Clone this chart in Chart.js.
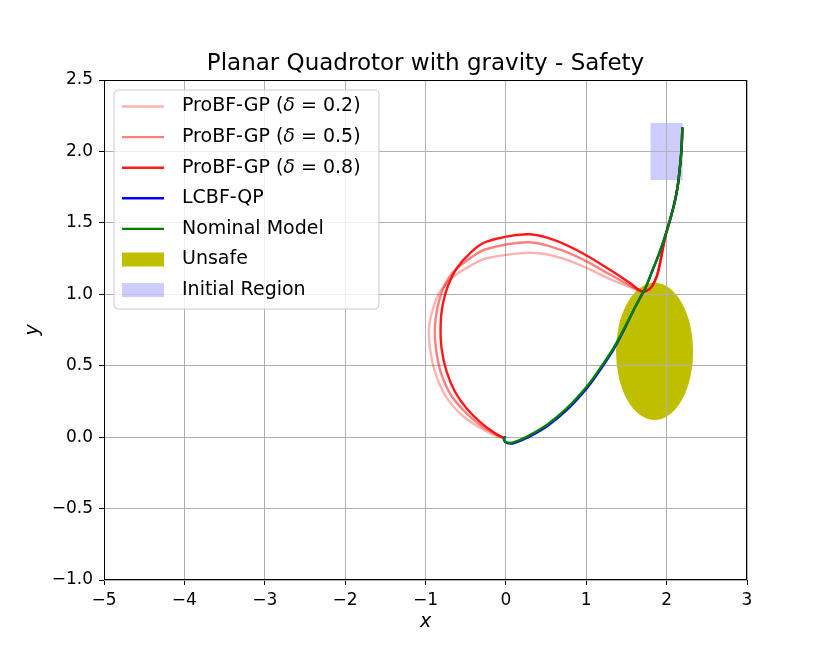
<!DOCTYPE html>
<html>
<head>
<meta charset="utf-8">
<script src="https://cdn.jsdelivr.net/npm/chart.js@4/dist/chart.umd.min.js"></script>
<style>
html,body{margin:0;padding:0;background:#fff;}
canvas{display:block;}
</style>
</head>
<body>
<canvas id="c" width="830" height="664"></canvas>
<script>
// ---- Data ----
const chartTitle = "Planar Quadrotor with gravity - Safety";
const xTickRange = [-5, 3];
const yTickRange = [-1, 2.5];

const nominalModel = [[2.195,2.162],[2.187,2.033],[2.166,1.893],[2.137,1.753],[2.096,1.636],[2.042,1.52],[1.979,1.403],[1.909,1.287],[1.826,1.17],[1.743,1.053],[1.66,0.965],[1.585,0.885],[1.461,0.75],[1.336,0.621],[1.171,0.481],[1.005,0.353],[0.756,0.201],[0.508,0.085],[0.259,0.003],[0.092,-0.037],[0.01,-0.037],[-0.024,-0.02],[-0.011,0.0]];
const lcbfQP = [[2.195,2.162],[2.187,2.033],[2.166,1.893],[2.137,1.753],[2.096,1.636],[2.042,1.52],[1.979,1.403],[1.909,1.287],[1.826,1.17],[1.743,1.053],[1.66,0.965],[1.585,0.885],[1.464,0.745],[1.34,0.614],[1.176,0.473],[1.01,0.344],[0.762,0.192],[0.512,0.076],[0.262,-0.005],[0.094,-0.043],[0.01,-0.04],[-0.024,-0.02],[-0.011,0.0]];
const probf08 = [[2.195,2.162],[2.187,2.033],[2.166,1.893],[2.137,1.753],[2.096,1.636],[2.042,1.52],[1.982,1.40],[1.926,1.24],[1.876,1.123],[1.814,1.053],[1.752,1.025],[1.69,1.02],[1.54,1.08],[1.30,1.17],[0.88,1.31],[0.55,1.39],[0.259,1.42],[-0.239,1.368],[-0.447,1.287],[-0.612,1.181],[-0.717,1.065],[-0.787,0.925],[-0.812,0.785],[-0.80,0.622],[-0.737,0.458],[-0.633,0.318],[-0.488,0.201],[-0.301,0.097],[-0.114,0.02],[-0.032,-0.004]];
const probf05 = [[2.195,2.162],[2.187,2.033],[2.166,1.893],[2.137,1.753],[2.096,1.636],[2.042,1.52],[1.982,1.40],[1.926,1.24],[1.876,1.123],[1.814,1.053],[1.752,1.025],[1.69,1.02],[1.53,1.065],[1.29,1.14],[0.88,1.265],[0.55,1.335],[0.259,1.364],[-0.239,1.317],[-0.447,1.251],[-0.654,1.155],[-0.779,1.041],[-0.853,0.901],[-0.884,0.761],[-0.87,0.622],[-0.812,0.458],[-0.696,0.307],[-0.53,0.19],[-0.322,0.085],[-0.114,0.017],[-0.032,-0.004]];
const probf02 = [[2.195,2.162],[2.187,2.033],[2.166,1.893],[2.137,1.753],[2.096,1.636],[2.042,1.52],[1.982,1.40],[1.926,1.24],[1.876,1.123],[1.814,1.053],[1.752,1.025],[1.69,1.02],[1.52,1.055],[1.28,1.11],[0.88,1.215],[0.55,1.275],[0.259,1.29],[-0.239,1.252],[-0.447,1.197],[-0.654,1.123],[-0.82,1.018],[-0.911,0.89],[-0.957,0.761],[-0.944,0.622],[-0.882,0.458],[-0.758,0.295],[-0.572,0.167],[-0.344,0.073],[-0.135,0.012],[-0.032,-0.004]];

const unsafeCenter = [1.85, 0.6];
const unsafeRadius = 0.48;
const initialRegion = { x: [1.8, 2.2], y: [1.8, 2.2] };

const legendLabels = [
  {pre:"ProBF-GP (", sym:"\u03B4", post:" = 0.2)", color:"rgba(255,0,0,0.3)", kind:"line"},
  {pre:"ProBF-GP (", sym:"\u03B4", post:" = 0.5)", color:"rgba(255,0,0,0.5)", kind:"line"},
  {pre:"ProBF-GP (", sym:"\u03B4", post:" = 0.8)", color:"rgba(255,0,0,0.9)", kind:"line"},
  {pre:"LCBF-QP", color:"#0000ff", kind:"line"},
  {pre:"Nominal Model", color:"#008000", kind:"line"},
  {pre:"Unsafe", color:"#bfbf00", kind:"patch"},
  {pre:"Initial Region", color:"rgba(0,0,255,0.2)", kind:"patch"}
];

const FONT = "'DejaVu Sans', sans-serif";
const toPts = a => a.map(p => ({x: p[0], y: p[1]}));
const minus = v => String(v).replace('-', '\u2212');

const patchPlugin = {
  id: 'patches',
  beforeDraw(chart) {
    const {ctx, scales:{x, y}} = chart;
    const ca = chart.chartArea;
    ctx.save();
    ctx.beginPath();
    ctx.rect(ca.left, ca.top, ca.right - ca.left, ca.bottom - ca.top);
    ctx.clip();
    const x0 = x.getPixelForValue(initialRegion.x[0]), x1 = x.getPixelForValue(initialRegion.x[1]);
    const y0 = y.getPixelForValue(initialRegion.y[1]), y1 = y.getPixelForValue(initialRegion.y[0]);
    ctx.fillStyle = legendLabels[6].color;
    ctx.fillRect(x0, y0, x1 - x0, y1 - y0);
    const cx = x.getPixelForValue(unsafeCenter[0]), cy = y.getPixelForValue(unsafeCenter[1]);
    const rx = x.getPixelForValue(unsafeCenter[0] + unsafeRadius) - cx;
    const ry = cy - y.getPixelForValue(unsafeCenter[1] + unsafeRadius);
    ctx.fillStyle = legendLabels[5].color;
    ctx.beginPath();
    ctx.ellipse(cx, cy, rx, ry, 0, 0, Math.PI * 2);
    ctx.fill();
    ctx.restore();
  }
};

const framePlugin = {
  id: 'frame',
  afterDraw(chart) {
    const {ctx} = chart;
    const ca = chart.chartArea;
    ctx.save();
    ctx.strokeStyle = '#000';
    ctx.lineWidth = 1;
    ctx.strokeRect(Math.round(ca.left) + 0.5, Math.round(ca.top) + 0.5, Math.round(ca.right - ca.left) - 1, Math.round(ca.bottom - ca.top) - 1);
    // Title
    ctx.fillStyle = '#000';
    ctx.font = "23px " + FONT;
    ctx.textAlign = 'center';
    ctx.textBaseline = 'middle';
    ctx.fillText(chartTitle, (ca.left + ca.right) / 2, 64);
    // Legend
    const lx = 114, ly = 90, lw = 265, lh = 219, r = 4;
    ctx.fillStyle = 'rgba(255,255,255,0.8)';
    ctx.strokeStyle = '#cccccc';
    ctx.beginPath();
    ctx.moveTo(lx + r, ly);
    ctx.arcTo(lx + lw, ly, lx + lw, ly + lh, r);
    ctx.arcTo(lx + lw, ly + lh, lx, ly + lh, r);
    ctx.arcTo(lx, ly + lh, lx, ly, r);
    ctx.arcTo(lx, ly, lx + lw, ly, r);
    ctx.closePath();
    ctx.fill();
    ctx.stroke();
    const rowY0 = 106.5, step = 30.6;
    legendLabels.forEach((it, i) => {
      const cyy = rowY0 + i * step;
      if (it.kind === 'line') {
        ctx.strokeStyle = it.color;
        ctx.lineWidth = 2.4;
        ctx.beginPath();
        ctx.moveTo(122, cyy);
        ctx.lineTo(164, cyy);
        ctx.stroke();
      } else {
        ctx.fillStyle = it.color;
        ctx.fillRect(122, cyy - 7, 42, 14);
      }
      ctx.fillStyle = '#000';
      ctx.textBaseline = 'middle';
      ctx.textAlign = 'left';
      let tx = 182;
      ctx.font = "19px " + FONT;
      ctx.fillText(it.pre, tx, cyy);
      tx += ctx.measureText(it.pre).width;
      if (it.sym) {
        ctx.font = "italic 19px " + FONT;
        ctx.fillText(it.sym, tx, cyy);
        tx += ctx.measureText(it.sym).width;
        ctx.font = "19px " + FONT;
        ctx.fillText(it.post, tx, cyy);
      }
    });
    ctx.restore();
  }
};

const common = {showLine: true, pointRadius: 0, borderWidth: 2.4, tension: 0.4, fill: false, borderCapStyle: 'round', borderJoinStyle: 'round'};

new Chart(document.getElementById('c'), {
  type: 'scatter',
  data: {
    datasets: [
      {...common, label: 'ProBF-GP (δ = 0.2)', data: toPts(probf02), borderColor: 'rgba(255,0,0,0.3)', order: 5},
      {...common, label: 'ProBF-GP (δ = 0.5)', data: toPts(probf05), borderColor: 'rgba(255,0,0,0.5)', order: 4},
      {...common, label: 'ProBF-GP (δ = 0.8)', data: toPts(probf08), borderColor: 'rgba(255,0,0,0.9)', order: 3},
      {...common, label: 'LCBF-QP', data: toPts(lcbfQP), borderColor: '#0000ff', order: 2},
      {...common, label: 'Nominal Model', data: toPts(nominalModel), borderColor: '#008000', order: 1}
    ]
  },
  options: {
    responsive: false,
    devicePixelRatio: 1,
    animation: false,
    layout: {padding: {left: 0, right: 83, top: 80, bottom: 0}},
    plugins: {
      legend: {display: false},
      tooltip: {enabled: false},
      title: {display: false}
    },
    scales: {
      x: {
        type: 'linear',
        min: xTickRange[0], max: xTickRange[1],
        afterFit(s) { s.height = 84; },
        ticks: {stepSize: 1, color: '#000', padding: 5, font: {family: FONT, size: 17}, callback: v => minus(v), maxRotation: 0},
        grid: {color: '#b0b0b0', lineWidth: 1, tickColor: '#000', tickLength: 5, drawTicks: true},
        border: {display: false},
        title: {display: true, text: 'x', color: '#000', font: {family: FONT, size: 19, style: 'italic', lineHeight: 1.2}, padding: {top: 0, bottom: 31}}
      },
      y: {
        type: 'linear',
        min: yTickRange[0], max: yTickRange[1],
        afterFit(s) { s.width = 104; },
        ticks: {stepSize: 0.5, color: '#000', padding: 6, font: {family: FONT, size: 17}, callback: v => minus(Number(v).toFixed(1))},
        grid: {color: '#b0b0b0', lineWidth: 1, tickColor: '#000', tickLength: 5, drawTicks: true},
        border: {display: false},
        title: {display: true, text: 'y', color: '#000', font: {family: FONT, size: 19, style: 'italic', lineHeight: 1.2}, padding: {top: 22, bottom: 0}}
      }
    }
  },
  plugins: [patchPlugin, framePlugin]
});
</script>
</body>
</html>
